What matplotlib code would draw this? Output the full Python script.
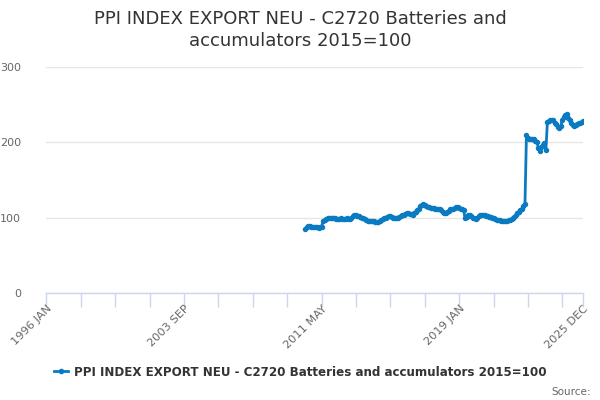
import numpy as np
import pandas as pd
import matplotlib
matplotlib.use("Agg")
import matplotlib.pyplot as plt
from matplotlib.lines import Line2D

# x axis categories: every month from 1996 JAN to 2025 DEC
months = pd.date_range("1996-01-01", "2025-12-01", freq="MS")
categories = [d.strftime("%Y %b").upper() for d in months]

# series starts 2010 JUN
series_start = "2010 JUN"
values = [
    85, 87, 89, 89, 88, 88, 88, 87, 87, 86, 87, 88,
    95, 97, 98, 99, 99, 100, 100, 99, 99, 98, 98, 98,
    99, 98, 98, 98, 99, 98, 98, 99, 102, 103, 103, 102,
    102, 101, 100, 99, 98, 97, 96, 96, 95, 95, 95, 94,
    94, 94, 95, 97, 98, 99, 100, 101, 102, 102, 101, 100,
    99, 100, 100, 101, 102, 103, 104, 105, 106, 106, 105, 105,
    104, 106, 108, 110, 112, 115, 117, 118, 117, 116, 114, 114,
    113, 113, 113, 112, 112, 112, 111, 110, 108, 106, 106, 107,
    109, 111, 112, 112, 113, 114, 114, 113, 112, 111, 110, 99,
    101, 103, 104, 102, 100, 99, 98, 100, 102, 103, 104, 103,
    103, 102, 102, 101, 101, 100, 99, 98, 97, 97, 97, 96,
    96, 96, 96, 96, 97, 97, 98, 99, 101, 103, 106, 108,
    110, 112, 115, 118,
    210, 206, 204, 204, 205, 204, 202, 201, 192, 188, 194, 197, 199, 190,
    227, 228, 229, 230, 230, 226, 224, 221, 219, 222, 230, 234, 236, 238,
    232, 229, 226, 223, 222, 223, 224, 225, 226, 227, 228,
]
series_name = "PPI INDEX EXPORT NEU - C2720 Batteries and accumulators 2015=100"

y_ticks = [0, 100, 200, 300]
label_positions = [0, 92, 184, 276, 359]

blue = "#0b7bc1"
axis_col = "#ccd6eb"
grid_col = "#e6e6e6"

start = categories.index(series_start)
x = np.arange(start, start + len(values))

fig = plt.figure(figsize=(6, 4), dpi=100)
ax = fig.add_axes([46.3 / 600, 107 / 400, 537 / 600, 226 / 400])

ax.plot(x, values, color=blue, lw=2, marker="o", ms=2.9, mec=blue, mfc=blue,
        solid_joinstyle="round", zorder=3)

ax.set_xlim(0, len(categories) - 1)
ax.set_ylim(0, 300)
ax.set_yticks(y_ticks)
ax.set_yticklabels([str(t) for t in y_ticks], color="#666666", fontsize=8)
ax.tick_params(axis="y", length=0, pad=18)
for lab in ax.get_yticklabels():
    lab.set_horizontalalignment("right")
ax.grid(axis="y", color=grid_col, lw=1)
ax.set_axisbelow(True)

tick_pos = list(range(0, len(categories), 23)) + [len(categories) - 1]
ax.set_xticks(tick_pos)
ax.set_xticklabels([""] * len(tick_pos))
ax.tick_params(axis="x", length=10, width=1, color=axis_col, direction="out")
for p in label_positions:
    ax.text(p, -0.045, categories[p], transform=ax.get_xaxis_transform(),
            rotation=45, ha="right", va="top", rotation_mode="anchor",
            fontsize=8.2, color="#666666")

for s in ["top", "right", "left"]:
    ax.spines[s].set_visible(False)
ax.spines["bottom"].set_color(axis_col)
ax.spines["bottom"].set_linewidth(1)

fig.text(0.5, 0.975, "PPI INDEX EXPORT NEU - C2720 Batteries and\naccumulators 2015=100",
         ha="center", va="top", fontsize=13, color="#333333", linespacing=1.25)

handle = Line2D([0], [0], color=blue, lw=2, marker="o", ms=3)
fig.legend([handle], [series_name], loc="center", bbox_to_anchor=(0.5, 0.07),
           frameon=False, prop={"size": 8.6, "weight": "bold"}, labelcolor="#333333",
           handlelength=1.2, handletextpad=0.5)

fig.text(0.985, 0.008, "Source:", ha="right", va="bottom", fontsize=7.5, color="#666666")

fig.savefig("out.png", dpi=100)
